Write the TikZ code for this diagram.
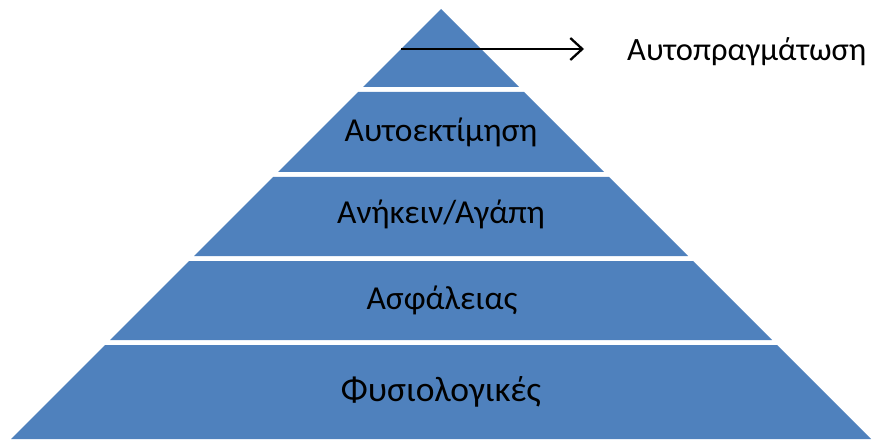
\documentclass[tikz,border=0pt]{standalone}
\usepackage{fontspec}
\setmainfont{Carlito}
\usetikzlibrary{arrows.meta}
\definecolor{pyrblue}{HTML}{4F81BD}
\tikzset{
  layer/.style={fill=pyrblue, draw=none},
  lbl/.style={font=\fontsize{33.5}{38}\selectfont, text=black, inner sep=0pt, anchor=base},
  pointer/.style={line width=2.5pt, -{Straight Barb[length=12pt,width=22pt,line width=2.3pt]}}
}
\begin{document}
\begin{tikzpicture}[x=1pt,y=-1pt]
\useasboundingbox (0,0) rectangle (887,441);
% layers: apex (441,9), slope 45 deg
\newcommand\pyrlayer[2]{%
  \fill[layer] ({441-(#1-9)},#1) -- ({441+(#1-9)},#1) -- ({441+(#2-9)},#2) -- ({441-(#2-9)},#2) -- cycle;}
\fill[layer] (441,9) -- (519,87) -- (363,87) -- cycle;
\pyrlayer{92}{172}
\pyrlayer{177}{256}
\pyrlayer{261}{340}
\pyrlayer{345}{439}
\node[lbl] (l2) at (441,142) {Αυτοεκτίμηση};
\node[lbl] (l3) at (441,224) {Ανήκειν/Αγάπη};
\node[lbl] (l4) at (442,309) {Ασφάλειας};
\node[lbl, font=\fontsize{35.5}{40}\selectfont] (l5) at (441,401) {Φυσιολογικές};
\node[lbl, font=\fontsize{32.5}{37}\selectfont, anchor=base west] (top) at (627,61) {Αυτοπραγμάτωση};
\coordinate (arrS) at (401,49);
\coordinate (arrE) at (584,49);
\draw[pointer] (arrS) -- (arrE);
\end{tikzpicture}
\end{document}
